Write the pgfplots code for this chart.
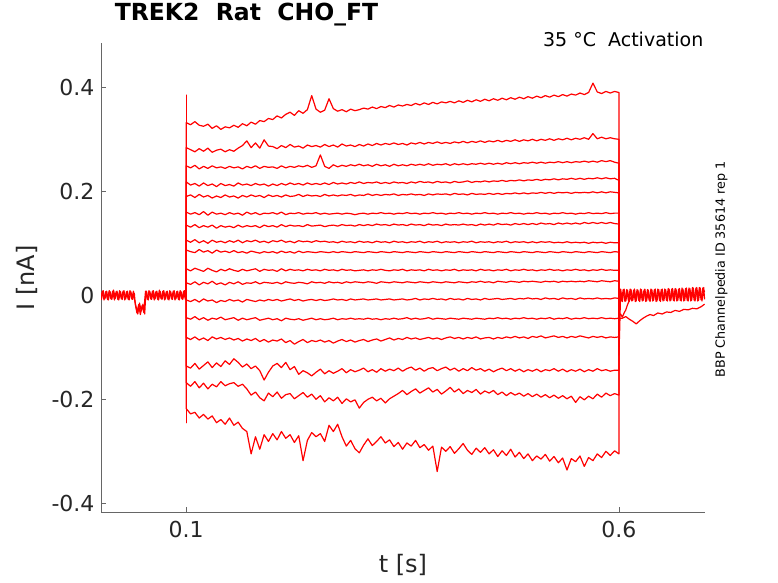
\documentclass[border=0pt]{standalone}
\usepackage{pgfplots}
\pgfplotsset{compat=1.18}
\usepackage{pgfplotstable}
\usepackage{fontspec}
\setmainfont{DejaVu Sans}

\pgfplotsset{trace/.style={red, solid, line width=1.2bp, line join=round}}

\pgfplotstableread{
t c1 c2 c3 c4 c5 c6 c7 c8 c9 c10 c11 c12 c13 c14 c15 c16 c17
0.100 0 0 0 0 0 0 0 0 0 0 0 0 0 0 0 0 0
0.100 0.332 0.284 0.249 0.218 0.190 0.160 0.135 0.106 0.087 0.051 0.024 -0.009 -0.043 -0.081 -0.136 -0.168 -0.218
0.105 0.328 0.280 0.245 0.212 0.193 0.156 0.131 0.102 0.084 0.047 0.021 -0.012 -0.046 -0.085 -0.140 -0.175 -0.228
0.110 0.334 0.276 0.250 0.215 0.188 0.159 0.136 0.107 0.082 0.052 0.026 -0.008 -0.041 -0.080 -0.131 -0.166 -0.225
0.115 0.327 0.282 0.243 0.210 0.194 0.155 0.130 0.101 0.088 0.049 0.020 -0.013 -0.047 -0.086 -0.142 -0.178 -0.236
0.120 0.325 0.277 0.248 0.216 0.189 0.161 0.134 0.105 0.083 0.046 0.025 -0.007 -0.043 -0.082 -0.135 -0.169 -0.229
0.125 0.329 0.283 0.244 0.211 0.192 0.154 0.131 0.100 0.086 0.052 0.022 -0.011 -0.048 -0.087 -0.128 -0.180 -0.238
0.130 0.321 0.275 0.249 0.214 0.187 0.160 0.135 0.106 0.081 0.048 0.027 -0.009 -0.044 -0.080 -0.139 -0.171 -0.232
0.135 0.326 0.279 0.245 0.209 0.191 0.156 0.129 0.102 0.087 0.045 0.021 -0.014 -0.046 -0.084 -0.130 -0.176 -0.245
0.140 0.319 0.281 0.247 0.215 0.188 0.158 0.134 0.104 0.083 0.050 0.024 -0.010 -0.042 -0.081 -0.137 -0.166 -0.239
0.145 0.324 0.276 0.244 0.211 0.193 0.155 0.131 0.101 0.085 0.047 0.020 -0.012 -0.047 -0.085 -0.126 -0.174 -0.248
0.150 0.322 0.280 0.248 0.213 0.189 0.159 0.133 0.105 0.082 0.051 0.025 -0.008 -0.045 -0.082 -0.133 -0.170 -0.236
0.155 0.327 0.277 0.245 0.210 0.191 0.156 0.130 0.102 0.086 0.048 0.022 -0.011 -0.043 -0.086 -0.122 -0.168 -0.250
0.160 0.323 0.283 0.247 0.216 0.187 0.158 0.135 0.106 0.082 0.046 0.026 -0.009 -0.048 -0.083 -0.129 -0.175 -0.244
0.165 0.330 0.288 0.243 0.212 0.192 0.154 0.131 0.101 0.084 0.050 0.021 -0.013 -0.044 -0.088 -0.138 -0.171 -0.256
0.170 0.326 0.297 0.248 0.214 0.189 0.160 0.134 0.105 0.081 0.047 0.024 -0.008 -0.047 -0.084 -0.132 -0.180 -0.262
0.175 0.333 0.284 0.245 0.211 0.193 0.156 0.132 0.103 0.085 0.049 0.023 -0.010 -0.045 -0.087 -0.141 -0.192 -0.305
0.180 0.329 0.293 0.249 0.215 0.190 0.159 0.134 0.106 0.083 0.051 0.026 -0.012 -0.043 -0.083 -0.136 -0.186 -0.272
0.185 0.336 0.283 0.244 0.212 0.192 0.155 0.130 0.102 0.081 0.046 0.022 -0.009 -0.048 -0.089 -0.145 -0.197 -0.296
0.190 0.334 0.299 0.248 0.214 0.188 0.158 0.135 0.104 0.084 0.050 0.025 -0.011 -0.046 -0.085 -0.163 -0.203 -0.268
0.195 0.340 0.287 0.246 0.210 0.193 0.157 0.132 0.101 0.082 0.048 0.024 -0.008 -0.044 -0.090 -0.148 -0.188 -0.281
0.200 0.338 0.286 0.247 0.214 0.190 0.159 0.134 0.105 0.084 0.049 0.023 -0.010 -0.047 -0.086 -0.136 -0.195 -0.266
0.205 0.345 0.282 0.244 0.211 0.192 0.156 0.131 0.103 0.081 0.046 0.025 -0.008 -0.045 -0.088 -0.131 -0.186 -0.278
0.210 0.341 0.288 0.249 0.215 0.189 0.160 0.136 0.106 0.085 0.051 0.022 -0.011 -0.049 -0.084 -0.139 -0.198 -0.262
0.215 0.348 0.284 0.245 0.212 0.193 0.155 0.132 0.102 0.082 0.047 0.026 -0.009 -0.044 -0.091 -0.129 -0.191 -0.275
0.220 0.352 0.290 0.248 0.216 0.190 0.158 0.135 0.104 0.084 0.050 0.024 -0.007 -0.046 -0.087 -0.143 -0.189 -0.268
0.225 0.346 0.285 0.246 0.213 0.191 0.157 0.133 0.101 0.081 0.048 0.023 -0.010 -0.047 -0.094 -0.137 -0.199 -0.283
0.230 0.355 0.287 0.249 0.215 0.194 0.159 0.134 0.105 0.085 0.049 0.025 -0.008 -0.045 -0.089 -0.152 -0.193 -0.270
0.235 0.350 0.283 0.247 0.212 0.190 0.156 0.132 0.103 0.082 0.047 0.024 -0.011 -0.048 -0.085 -0.145 -0.187 -0.318
0.240 0.357 0.289 0.250 0.216 0.193 0.158 0.136 0.104 0.084 0.050 0.022 -0.009 -0.046 -0.091 -0.149 -0.196 -0.279
0.245 0.384 0.286 0.246 0.213 0.191 0.157 0.133 0.102 0.083 0.048 0.026 -0.008 -0.044 -0.087 -0.155 -0.190 -0.264
0.250 0.358 0.288 0.249 0.215 0.192 0.159 0.134 0.105 0.082 0.049 0.024 -0.010 -0.047 -0.089 -0.148 -0.200 -0.272
0.255 0.352 0.285 0.270 0.213 0.190 0.156 0.135 0.103 0.084 0.047 0.025 -0.008 -0.045 -0.086 -0.142 -0.193 -0.266
0.260 0.356 0.290 0.248 0.216 0.194 0.158 0.132 0.104 0.083 0.050 0.023 -0.010 -0.047 -0.090 -0.151 -0.205 -0.281
0.265 0.378 0.286 0.244 0.213 0.191 0.156 0.134 0.102 0.082 0.048 0.026 -0.009 -0.046 -0.087 -0.145 -0.197 -0.250
0.270 0.359 0.289 0.251 0.217 0.193 0.157 0.135 0.103 0.084 0.049 0.024 -0.007 -0.044 -0.092 -0.150 -0.203 -0.262
0.275 0.354 0.285 0.247 0.214 0.191 0.158 0.133 0.101 0.082 0.047 0.025 -0.009 -0.047 -0.088 -0.146 -0.196 -0.248
0.280 0.357 0.291 0.250 0.216 0.193 0.156 0.136 0.104 0.084 0.050 0.023 -0.008 -0.045 -0.085 -0.141 -0.208 -0.272
0.285 0.353 0.287 0.248 0.214 0.192 0.158 0.134 0.102 0.083 0.048 0.026 -0.010 -0.046 -0.089 -0.149 -0.199 -0.290
0.290 0.358 0.289 0.251 0.217 0.194 0.157 0.135 0.103 0.082 0.049 0.024 -0.007 -0.044 -0.086 -0.143 -0.205 -0.279
0.295 0.355 0.286 0.249 0.215 0.191 0.155 0.133 0.101 0.084 0.047 0.026 -0.009 -0.046 -0.090 -0.147 -0.201 -0.295
0.300 0.357 0.290 0.252 0.218 0.193 0.157 0.136 0.104 0.083 0.048 0.025 -0.008 -0.045 -0.087 -0.144 -0.217 -0.303
0.305 0.360 0.287 0.249 0.215 0.192 0.158 0.134 0.102 0.082 0.049 0.024 -0.007 -0.046 -0.085 -0.140 -0.206 -0.288
0.310 0.358 0.291 0.251 0.217 0.195 0.156 0.136 0.103 0.084 0.047 0.026 -0.009 -0.044 -0.089 -0.147 -0.200 -0.276
0.315 0.362 0.288 0.248 0.216 0.192 0.158 0.134 0.101 0.083 0.049 0.025 -0.008 -0.046 -0.086 -0.143 -0.196 -0.289
0.320 0.359 0.292 0.252 0.218 0.194 0.157 0.137 0.104 0.082 0.048 0.023 -0.007 -0.045 -0.084 -0.148 -0.203 -0.281
0.325 0.363 0.289 0.249 0.215 0.192 0.159 0.135 0.102 0.084 0.050 0.026 -0.009 -0.047 -0.088 -0.141 -0.198 -0.272
0.330 0.361 0.292 0.251 0.217 0.194 0.157 0.136 0.103 0.083 0.048 0.025 -0.008 -0.045 -0.085 -0.146 -0.207 -0.284
0.335 0.365 0.290 0.248 0.215 0.193 0.158 0.134 0.101 0.082 0.047 0.024 -0.007 -0.046 -0.082 -0.142 -0.199 -0.278
0.340 0.362 0.293 0.252 0.218 0.195 0.156 0.137 0.104 0.084 0.049 0.026 -0.009 -0.044 -0.086 -0.145 -0.194 -0.291
0.345 0.366 0.290 0.249 0.216 0.192 0.158 0.135 0.102 0.083 0.048 0.025 -0.008 -0.046 -0.083 -0.140 -0.189 -0.283
0.350 0.364 0.292 0.251 0.217 0.194 0.157 0.136 0.103 0.082 0.050 0.024 -0.007 -0.045 -0.085 -0.146 -0.183 -0.296
0.355 0.367 0.289 0.249 0.215 0.193 0.159 0.134 0.101 0.084 0.047 0.026 -0.009 -0.043 -0.081 -0.141 -0.191 -0.284
0.360 0.365 0.293 0.252 0.218 0.195 0.157 0.137 0.103 0.083 0.049 0.025 -0.008 -0.046 -0.084 -0.138 -0.185 -0.290
0.365 0.369 0.291 0.250 0.216 0.193 0.158 0.135 0.102 0.082 0.048 0.024 -0.006 -0.044 -0.082 -0.144 -0.180 -0.279
0.370 0.366 0.294 0.252 0.219 0.194 0.156 0.136 0.104 0.084 0.049 0.026 -0.009 -0.046 -0.085 -0.140 -0.188 -0.293
0.375 0.370 0.291 0.250 0.217 0.192 0.158 0.134 0.101 0.083 0.047 0.025 -0.007 -0.045 -0.083 -0.146 -0.183 -0.287
0.380 0.367 0.294 0.253 0.218 0.195 0.157 0.137 0.103 0.082 0.050 0.024 -0.008 -0.043 -0.081 -0.141 -0.178 -0.298
0.385 0.371 0.292 0.250 0.216 0.193 0.159 0.135 0.102 0.084 0.048 0.026 -0.006 -0.046 -0.084 -0.139 -0.186 -0.290
0.390 0.368 0.295 0.252 0.219 0.195 0.157 0.136 0.104 0.083 0.049 0.025 -0.008 -0.044 -0.082 -0.145 -0.181 -0.339
0.395 0.372 0.292 0.251 0.217 0.194 0.158 0.134 0.101 0.082 0.047 0.024 -0.007 -0.045 -0.085 -0.141 -0.190 -0.292
0.400 0.370 0.294 0.253 0.218 0.195 0.156 0.137 0.103 0.084 0.049 0.026 -0.009 -0.046 -0.082 -0.138 -0.184 -0.300
0.405 0.373 0.292 0.250 0.216 0.193 0.158 0.135 0.102 0.083 0.048 0.025 -0.006 -0.044 -0.080 -0.144 -0.177 -0.291
0.410 0.370 0.295 0.253 0.219 0.196 0.157 0.136 0.103 0.082 0.050 0.024 -0.008 -0.045 -0.083 -0.140 -0.186 -0.304
0.415 0.374 0.293 0.251 0.217 0.194 0.159 0.135 0.101 0.084 0.047 0.026 -0.007 -0.046 -0.081 -0.146 -0.180 -0.295
0.420 0.371 0.296 0.253 0.218 0.195 0.157 0.137 0.103 0.083 0.049 0.025 -0.009 -0.044 -0.084 -0.141 -0.189 -0.285
0.425 0.375 0.293 0.251 0.220 0.193 0.158 0.135 0.102 0.082 0.048 0.024 -0.006 -0.045 -0.081 -0.145 -0.183 -0.298
0.430 0.372 0.296 0.253 0.217 0.196 0.156 0.136 0.104 0.084 0.049 0.026 -0.008 -0.046 -0.083 -0.139 -0.187 -0.306
0.435 0.376 0.294 0.252 0.219 0.194 0.158 0.134 0.101 0.083 0.047 0.025 -0.007 -0.044 -0.080 -0.144 -0.181 -0.294
0.440 0.373 0.297 0.254 0.218 0.195 0.157 0.137 0.103 0.082 0.050 0.027 -0.009 -0.045 -0.084 -0.141 -0.190 -0.302
0.445 0.377 0.294 0.252 0.220 0.194 0.159 0.135 0.102 0.084 0.048 0.025 -0.006 -0.046 -0.082 -0.146 -0.184 -0.293
0.450 0.374 0.297 0.254 0.218 0.196 0.157 0.137 0.103 0.083 0.049 0.026 -0.008 -0.044 -0.081 -0.142 -0.188 -0.305
0.455 0.378 0.295 0.252 0.220 0.194 0.158 0.135 0.101 0.082 0.047 0.024 -0.007 -0.045 -0.084 -0.147 -0.183 -0.297
0.460 0.375 0.298 0.254 0.219 0.196 0.156 0.138 0.103 0.084 0.049 0.027 -0.006 -0.043 -0.081 -0.143 -0.191 -0.310
0.465 0.379 0.295 0.252 0.221 0.194 0.158 0.136 0.102 0.083 0.048 0.026 -0.008 -0.045 -0.083 -0.140 -0.186 -0.299
0.470 0.376 0.298 0.255 0.219 0.196 0.157 0.137 0.104 0.082 0.050 0.025 -0.007 -0.044 -0.080 -0.145 -0.193 -0.308
0.475 0.380 0.296 0.253 0.221 0.195 0.159 0.135 0.101 0.084 0.047 0.027 -0.006 -0.046 -0.082 -0.141 -0.187 -0.296
0.480 0.377 0.299 0.255 0.220 0.197 0.157 0.138 0.103 0.083 0.049 0.026 -0.008 -0.044 -0.079 -0.146 -0.192 -0.311
0.485 0.381 0.296 0.253 0.222 0.195 0.158 0.136 0.102 0.082 0.048 0.025 -0.006 -0.045 -0.082 -0.142 -0.188 -0.302
0.490 0.378 0.299 0.255 0.220 0.197 0.156 0.138 0.103 0.084 0.050 0.027 -0.007 -0.043 -0.080 -0.147 -0.194 -0.314
0.495 0.382 0.297 0.254 0.222 0.195 0.158 0.136 0.101 0.083 0.048 0.026 -0.005 -0.045 -0.083 -0.143 -0.189 -0.305
0.500 0.379 0.300 0.256 0.221 0.197 0.157 0.138 0.103 0.082 0.049 0.027 -0.007 -0.044 -0.079 -0.146 -0.195 -0.318
0.505 0.383 0.297 0.254 0.223 0.196 0.159 0.136 0.101 0.084 0.047 0.026 -0.006 -0.046 -0.081 -0.142 -0.190 -0.309
0.510 0.380 0.300 0.256 0.221 0.198 0.157 0.139 0.103 0.083 0.049 0.025 -0.008 -0.044 -0.078 -0.147 -0.196 -0.315
0.515 0.384 0.298 0.254 0.223 0.196 0.158 0.137 0.102 0.082 0.048 0.027 -0.005 -0.045 -0.082 -0.143 -0.191 -0.306
0.520 0.381 0.301 0.256 0.222 0.198 0.156 0.138 0.103 0.084 0.050 0.026 -0.007 -0.043 -0.080 -0.145 -0.197 -0.319
0.525 0.385 0.298 0.255 0.224 0.196 0.158 0.136 0.101 0.083 0.048 0.027 -0.006 -0.046 -0.078 -0.141 -0.192 -0.310
0.530 0.382 0.301 0.257 0.222 0.198 0.157 0.139 0.102 0.082 0.049 0.025 -0.008 -0.044 -0.081 -0.146 -0.198 -0.322
0.535 0.386 0.299 0.255 0.224 0.197 0.159 0.137 0.101 0.084 0.047 0.027 -0.005 -0.045 -0.079 -0.142 -0.193 -0.313
0.540 0.383 0.302 0.257 0.223 0.198 0.157 0.139 0.103 0.083 0.049 0.026 -0.007 -0.043 -0.082 -0.147 -0.199 -0.336
0.545 0.387 0.299 0.255 0.225 0.196 0.158 0.137 0.101 0.082 0.048 0.027 -0.006 -0.046 -0.079 -0.143 -0.194 -0.314
0.550 0.385 0.302 0.257 0.223 0.198 0.156 0.139 0.102 0.084 0.050 0.026 -0.008 -0.044 -0.081 -0.146 -0.206 -0.320
0.555 0.389 0.300 0.256 0.225 0.197 0.158 0.137 0.101 0.083 0.048 0.027 -0.005 -0.045 -0.078 -0.142 -0.195 -0.309
0.560 0.386 0.303 0.258 0.223 0.198 0.157 0.140 0.102 0.082 0.049 0.026 -0.007 -0.043 -0.080 -0.147 -0.201 -0.329
0.565 0.390 0.300 0.256 0.225 0.197 0.159 0.138 0.100 0.084 0.047 0.028 -0.006 -0.045 -0.082 -0.143 -0.194 -0.312
0.570 0.408 0.311 0.258 0.224 0.199 0.157 0.140 0.102 0.083 0.049 0.027 -0.007 -0.044 -0.079 -0.146 -0.199 -0.318
0.575 0.391 0.301 0.256 0.226 0.197 0.158 0.138 0.101 0.082 0.048 0.026 -0.005 -0.045 -0.081 -0.141 -0.190 -0.305
0.580 0.388 0.304 0.259 0.224 0.199 0.157 0.140 0.102 0.084 0.050 0.028 -0.007 -0.043 -0.079 -0.145 -0.196 -0.312
0.585 0.392 0.301 0.257 0.226 0.197 0.159 0.138 0.100 0.083 0.048 0.027 -0.006 -0.045 -0.082 -0.143 -0.188 -0.300
0.590 0.389 0.303 0.259 0.224 0.199 0.157 0.140 0.102 0.082 0.049 0.026 -0.007 -0.044 -0.080 -0.146 -0.193 -0.308
0.595 0.392 0.301 0.256 0.225 0.198 0.158 0.138 0.101 0.084 0.048 0.028 -0.005 -0.045 -0.081 -0.144 -0.189 -0.299
0.600 0.390 0.300 0.254 0.221 0.197 0.158 0.137 0.101 0.083 0.048 0.027 -0.006 -0.044 -0.080 -0.144 -0.192 -0.305
0.600 0 0 0 0 0 0 0 0 0 0 0 0 0 0 0 0 0
}\tracedata

\begin{document}
\begin{tikzpicture}
\path[use as bounding box] (0,0) rectangle (778bp,583bp);
\begin{axis}[
  at={(101bp,70.7bp)}, anchor=south west,
  scale only axis, width=604bp, height=469bp,
  xmin=0.0015, xmax=0.6995, ymin=-0.4173, ymax=0.4846,
  axis x line*=bottom, axis y line*=left,
  axis line style={-, draw=black!60, line width=0.6bp},
  xtick pos=bottom, ytick pos=left,
  tick align=inside, major tick length=5bp,
  tick style={draw=black!60, line width=0.6bp},
  xtick={0.1,0.6}, xticklabels={0.1,0.6},
  ytick={-0.4,-0.2,0,0.2,0.4}, yticklabels={-0.4,-0.2,0,0.2,0.4},
  ticklabel style={font=\fontsize{22bp}{26bp}\selectfont, text=black!85},
  xticklabel style={yshift=-5bp},
  yticklabel style={xshift=-3bp},
  every axis x label/.style={at={(axis description cs:0.5,-0.1273)}, anchor=base, font=\fontsize{24bp}{28bp}\selectfont, text=black!85},
  every axis y label/.style={at={(axis description cs:-0.1093,0.5)}, anchor=base, rotate=90, font=\fontsize{24bp}{28bp}\selectfont, text=black!85},
  xlabel={t [s]}, ylabel={I [nA]},
  title={TREK2\ \ Rat\ \ CHO\_FT},
  title style={at={(axis description cs:0.017,1.0369)}, anchor=base west, font=\fontsize{23.5bp}{28bp}\selectfont\bfseries},
  no markers,
  clip mode=individual,
]
\pgfplotsinvokeforeach{1,...,17}{
  \addplot[trace] table[x=t, y=c#1] {\tracedata};
}
% capacitive transient at pulse onset
\addplot[trace] coordinates {(0.1,0) (0.1,0.385) (0.1,-0.245) (0.1,0)};
% baseline before the pulse (two overlapping sweeps)
\addplot[trace] coordinates {
(0.000,0.006) (0.002,-0.008) (0.004,0.009) (0.006,-0.007) (0.008,0.008) (0.010,-0.009)
(0.012,0.007) (0.014,-0.008) (0.016,0.010) (0.018,-0.006) (0.020,0.008) (0.022,-0.009)
(0.024,0.007) (0.026,-0.008) (0.028,0.009) (0.030,-0.007) (0.032,0.008) (0.034,-0.009)
(0.036,0.007) (0.038,-0.008) (0.040,0.004) (0.041,-0.016) (0.043,-0.034) (0.045,-0.018)
(0.047,-0.037) (0.049,-0.020) (0.051,-0.033) (0.052,-0.010) (0.053,0.008) (0.055,-0.008)
(0.057,0.009) (0.059,-0.007) (0.061,0.008) (0.063,-0.009) (0.065,0.007) (0.067,-0.008)
(0.069,0.010) (0.071,-0.007) (0.073,0.008) (0.075,-0.009) (0.077,0.007) (0.079,-0.008)
(0.081,0.009) (0.083,-0.007) (0.085,0.008) (0.087,-0.009) (0.089,0.007) (0.091,-0.008)
(0.093,0.009) (0.095,-0.007) (0.097,0.008) (0.099,-0.008) (0.100,0.004)
};
\addplot[trace] coordinates {
(0.001,-0.007) (0.003,0.008) (0.005,-0.009) (0.007,0.007) (0.009,-0.008) (0.011,0.009)
(0.013,-0.007) (0.015,0.008) (0.017,-0.009) (0.019,0.007) (0.021,-0.008) (0.023,0.009)
(0.025,-0.007) (0.027,0.008) (0.029,-0.009) (0.031,0.007) (0.033,-0.008) (0.035,0.009)
(0.037,-0.007) (0.039,0.008) (0.040,-0.006) (0.042,-0.022) (0.044,-0.036) (0.046,-0.015)
(0.048,-0.030) (0.050,-0.017) (0.052,-0.036) (0.053,-0.004) (0.054,0.008) (0.056,-0.009)
(0.058,0.007) (0.060,-0.008) (0.062,0.009) (0.064,-0.007) (0.066,0.008) (0.068,-0.009)
(0.070,0.007) (0.072,-0.008) (0.074,0.009) (0.076,-0.007) (0.078,0.008) (0.080,-0.009)
(0.082,0.007) (0.084,-0.008) (0.086,0.009) (0.088,-0.007) (0.090,0.008) (0.092,-0.009)
(0.094,0.007) (0.096,-0.008) (0.098,0.009) (0.100,-0.006)
};
% tail current after the pulse (overlapping sweeps)
\addplot[trace] coordinates {
(0.600,0.028) (0.600,-0.115) (0.601,-0.060) (0.602,0.012) (0.604,-0.012) (0.606,0.012)
(0.608,-0.011) (0.610,0.010) (0.612,-0.012) (0.614,0.011) (0.616,-0.010) (0.618,0.012)
(0.620,-0.011) (0.622,0.010) (0.624,-0.012) (0.626,0.011) (0.628,-0.010) (0.630,0.012)
(0.632,-0.011) (0.634,0.010) (0.636,-0.012) (0.638,0.011) (0.640,-0.010) (0.642,0.012)
(0.644,-0.011) (0.646,0.011) (0.648,-0.012) (0.650,0.012) (0.652,-0.010) (0.654,0.011)
(0.656,-0.011) (0.658,0.012) (0.660,-0.010) (0.662,0.013) (0.664,-0.011) (0.666,0.012)
(0.668,-0.010) (0.670,0.013) (0.672,-0.011) (0.674,0.012) (0.676,-0.010) (0.678,0.014)
(0.680,-0.011) (0.682,0.013) (0.684,-0.010) (0.686,0.014) (0.688,-0.011) (0.690,0.015)
(0.692,-0.010) (0.694,0.014) (0.696,-0.011) (0.698,0.015) (0.699,-0.008)
};
\addplot[trace] coordinates {
(0.601,0.010) (0.603,-0.011) (0.605,0.011) (0.607,-0.012) (0.609,0.011) (0.611,-0.010)
(0.613,0.012) (0.615,-0.011) (0.617,0.010) (0.619,-0.012) (0.621,0.011) (0.623,-0.010)
(0.625,0.012) (0.627,-0.011) (0.629,0.010) (0.631,-0.012) (0.633,0.011) (0.635,-0.010)
(0.637,0.012) (0.639,-0.011) (0.641,0.011) (0.643,-0.012) (0.645,0.012) (0.647,-0.010)
(0.649,0.011) (0.651,-0.011) (0.653,0.012) (0.655,-0.010) (0.657,0.013) (0.659,-0.011)
(0.661,0.012) (0.663,-0.010) (0.665,0.013) (0.667,-0.011) (0.669,0.012) (0.671,-0.010)
(0.673,0.014) (0.675,-0.011) (0.677,0.013) (0.679,-0.010) (0.681,0.014) (0.683,-0.011)
(0.685,0.015) (0.687,-0.010) (0.689,0.014) (0.691,-0.011) (0.693,0.015) (0.695,-0.009)
(0.697,0.014) (0.699,0.006)
};
\addplot[trace] coordinates {
(0.600,-0.040) (0.602,-0.036) (0.604,-0.042) (0.606,-0.034) (0.608,-0.028) (0.610,-0.018)
(0.612,-0.010) (0.614,-0.004)
};
\addplot[trace] coordinates {
(0.600,-0.045) (0.604,-0.044) (0.608,-0.041) (0.612,-0.046) (0.616,-0.050) (0.620,-0.055)
(0.624,-0.049) (0.628,-0.044) (0.632,-0.040) (0.636,-0.037) (0.640,-0.039) (0.645,-0.034)
(0.650,-0.036) (0.655,-0.032) (0.660,-0.033) (0.665,-0.029) (0.670,-0.031) (0.675,-0.027)
(0.680,-0.028) (0.685,-0.025) (0.690,-0.026) (0.695,-0.022) (0.699,-0.017)
};
\node[anchor=base east, font=\fontsize{19bp}{23bp}\selectfont, text=black]
  at (axis description cs:1.003,0.9932) {35 °C\ \ Activation};
\node[anchor=base, rotate=90, font=\fontsize{12.7bp}{15bp}\selectfont, text=black]
  at (axis description cs:1.0331,0.5177) {BBP Channelpedia ID 35614 rep 1};
\end{axis}
\end{tikzpicture}
\end{document}
